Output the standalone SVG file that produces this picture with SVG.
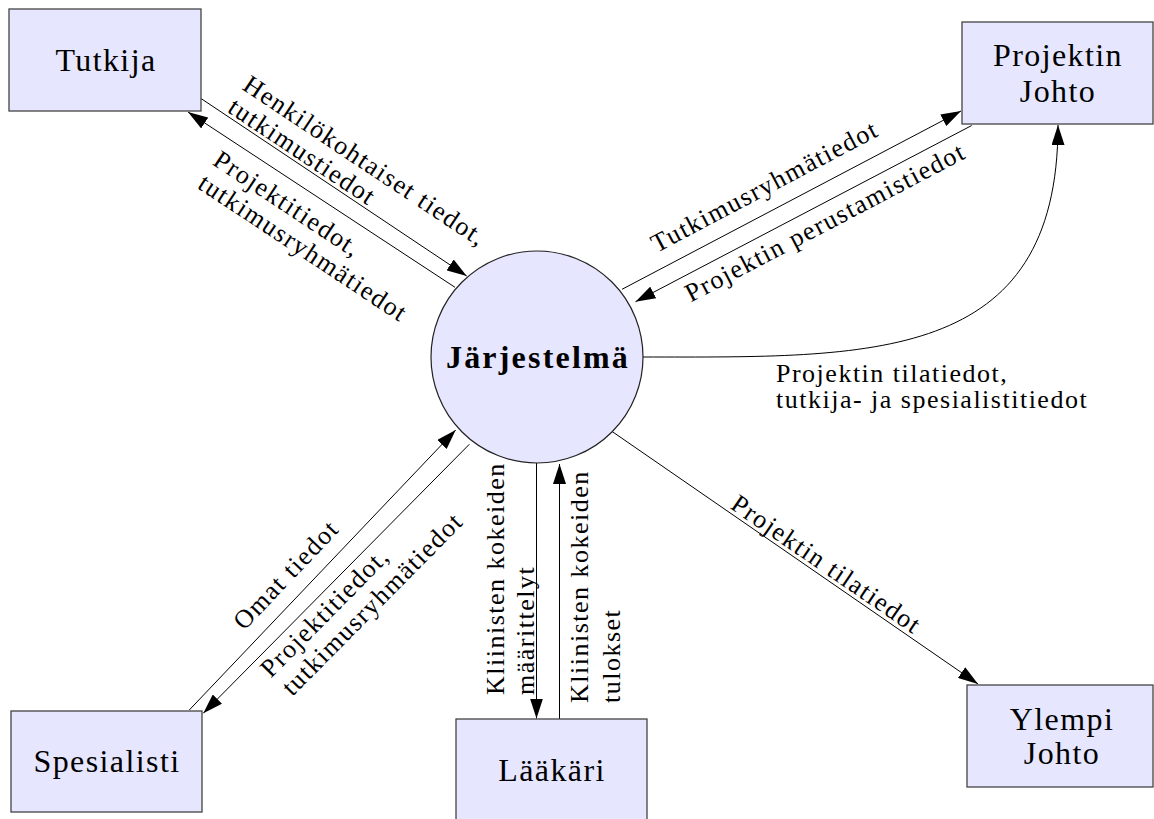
<svg xmlns="http://www.w3.org/2000/svg" width="1154" height="819" viewBox="0 0 1154 819">
<style>
.box{fill:#e6e6ff;stroke:#444;stroke-width:1.3}
.lbl{font-family:"Liberation Serif","Times New Roman",serif;font-size:32px;letter-spacing:1.4px;text-anchor:middle;fill:#000}
.cl{font-family:"Liberation Serif","Times New Roman",serif;font-size:26px;letter-spacing:1.5px;fill:#000}
.ln{fill:none;stroke:#000;stroke-width:1;marker-end:url(#arr)}
</style>
<defs>
<marker id="arr" viewBox="0 0 20 13" refX="20" refY="6.5" markerWidth="20" markerHeight="13" orient="auto" markerUnits="userSpaceOnUse"><path d="M0,0 L20,6.5 L0,13 z" fill="#000"/></marker>
</defs>
<rect width="1154" height="819" fill="#fff"/>
<g id="connectors">
<path class="ln" d="M200.7,98.3 L466.7,276"/>
<path class="ln" d="M455,287.3 L188,112"/>
<path class="ln" d="M622,289.3 L961,111"/>
<path class="ln" d="M971.7,125.5 L635.5,301.7"/>
<path class="ln" d="M643,357 C870,357 1058,365 1058,125"/>
<path class="ln" d="M612.4,431.7 L978,684"/>
<path class="ln" d="M189.3,710 L455.7,430"/>
<path class="ln" d="M469.3,444.3 L203.3,713.3"/>
<path class="ln" d="M536.5,463 L536.5,718.5"/>
<path class="ln" d="M559.5,719 L559.5,464"/>
<g transform="rotate(33.7)"><text class="cl" x="250" y="-60">Henkilökohtaiset tiedot,</text><text class="cl" x="250" y="-33">tutkimustiedot</text></g>
<g transform="rotate(33.5)"><text class="cl" x="267" y="20">Projektitiedot,</text><text class="cl" x="267" y="48">tutkimusryhmätiedot</text></g>
<g transform="rotate(-27.8)"><text class="cl" x="463" y="530">Tutkimusryhmätiedot</text></g>
<g transform="rotate(-27.7)"><text class="cl" x="471" y="589">Projektin perustamistiedot</text></g>
<text class="cl" x="776" y="381.5">Projektin tilatiedot,</text>
<text class="cl" x="776" y="408">tutkija- ja spesialistitiedot</text>
<g transform="rotate(34.5)"><text class="cl" x="888.6" y="5.5">Projektin tilatiedot</text></g>
<g transform="rotate(-46.4)"><text class="cl" x="-289" y="612">Omat tiedot</text></g>
<g transform="rotate(-45.3)"><text class="cl" x="-292" y="670">Projektitiedot,</text><text class="cl" x="-290" y="698">tutkimusryhmätiedot</text></g>
<g transform="translate(504,695) rotate(-90)"><text class="cl" x="0" y="0">Kliinisten kokeiden</text><text class="cl" x="0" y="30">määrittelyt</text></g>
<g transform="translate(588,703) rotate(-90)"><text class="cl" x="0" y="0">Kliinisten kokeiden</text><text class="cl" x="0" y="32">tulokset</text></g>
</g>
<g id="tutkija"><rect class="box" x="9" y="9" width="192" height="102"/><text class="lbl" x="106" y="71">Tutkija</text></g>
<g id="projektin-johto"><rect class="box" x="962" y="22" width="191" height="102"/><text class="lbl" x="1058" y="66">Projektin</text><text class="lbl" x="1058" y="102">Johto</text></g>
<g id="jarjestelma"><circle cx="537" cy="357" r="106" fill="#e6e6ff" stroke="#222" stroke-width="1.2"/><text x="538" y="368" style="font-family:'Liberation Serif','Times New Roman',serif;font-size:32px;font-weight:bold;letter-spacing:2.2px;text-anchor:middle">Järjestelmä</text></g>
<g id="spesialisti"><rect class="box" x="11" y="711" width="191" height="101"/><text class="lbl" x="107" y="772">Spesialisti</text></g>
<g id="laakari"><rect class="box" x="456" y="719" width="191" height="104"/><text class="lbl" x="552" y="781">Lääkäri</text></g>
<g id="ylempi-johto"><rect class="box" x="967" y="685" width="186" height="102"/><text class="lbl" x="1062" y="730">Ylempi</text><text class="lbl" x="1062" y="764">Johto</text></g>
</svg>
